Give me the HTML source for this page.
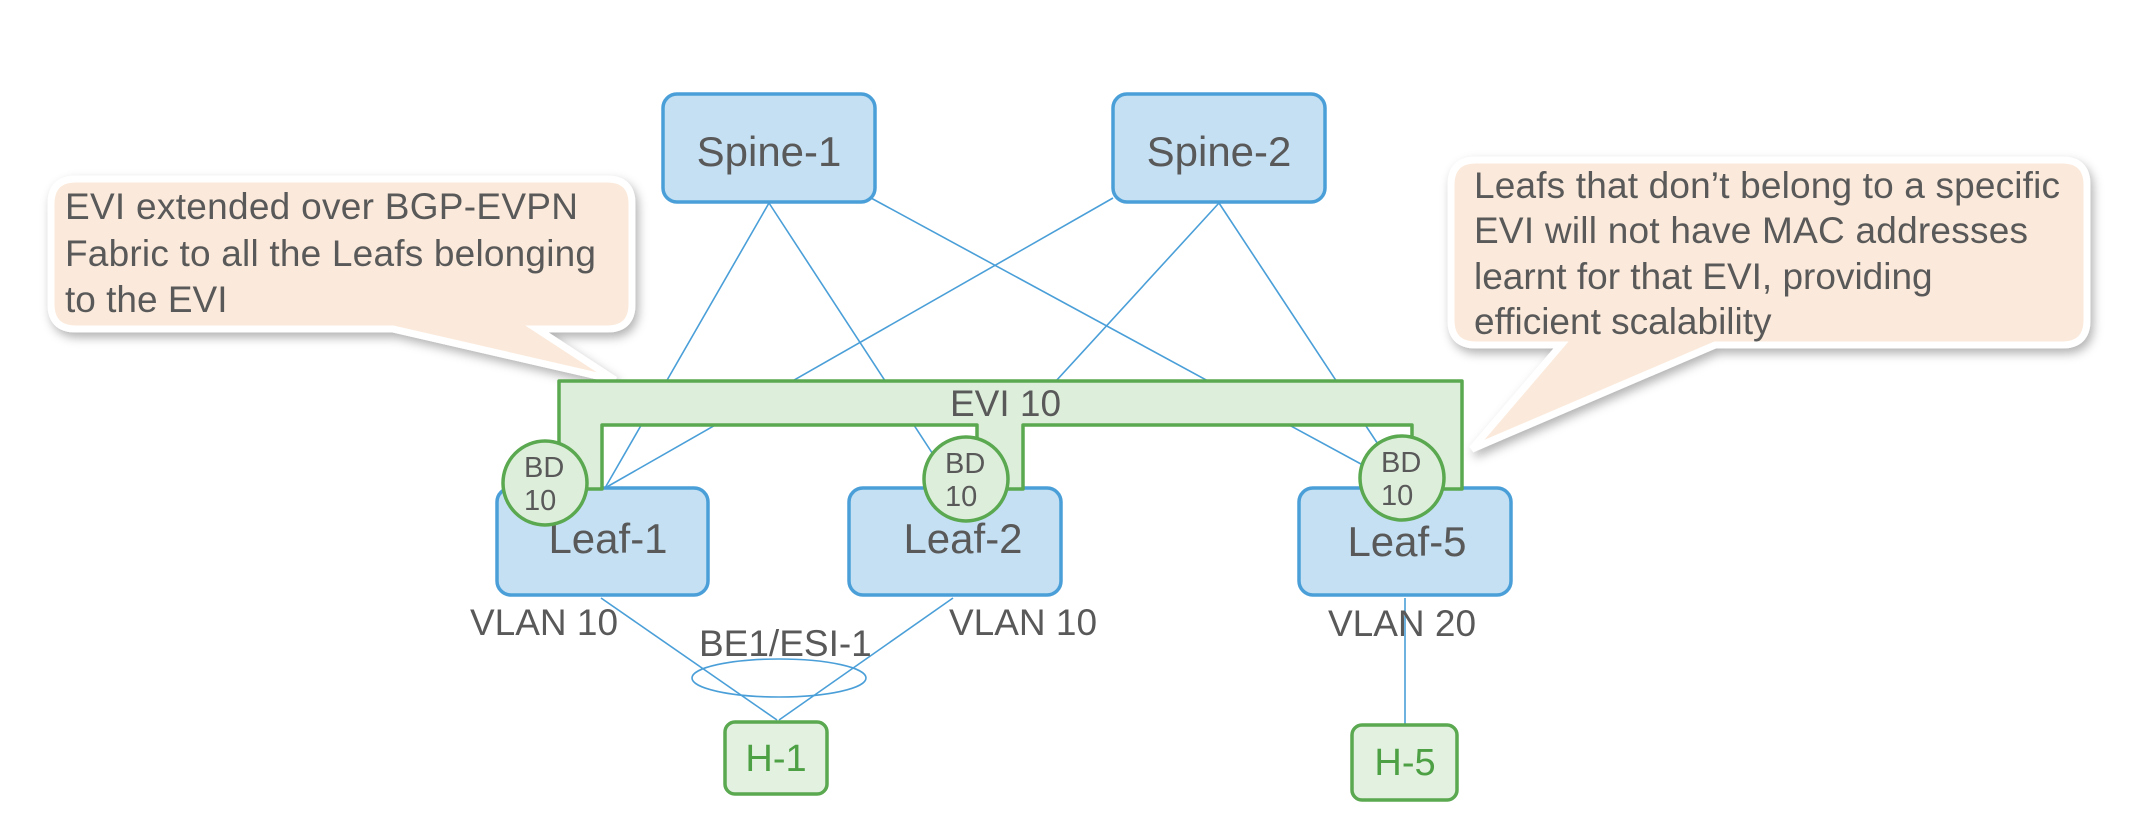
<!DOCTYPE html>
<html><head><meta charset="utf-8"><style>
html,body{margin:0;padding:0;background:#fff;}
svg{display:block;}
text{font-family:"Liberation Sans",Arial,sans-serif;fill:#595959;}
</style></head><body>
<svg width="2144" height="838" viewBox="0 0 2144 838" xmlns="http://www.w3.org/2000/svg">
<defs>
<filter id="sh" x="-10%" y="-10%" width="130%" height="140%">
<feDropShadow dx="3" dy="5" stdDeviation="5" flood-color="#000" flood-opacity="0.3"/>
</filter>
</defs>
<g stroke="#4a9fd8" stroke-width="1.6" fill="none">
<line x1="769" y1="203" x2="605" y2="488"/>
<line x1="769" y1="203" x2="955" y2="488"/>
<line x1="871" y1="198" x2="1372" y2="470"/>
<line x1="1113" y1="198" x2="605" y2="488"/>
<line x1="1219" y1="203" x2="958" y2="488"/>
<line x1="1219" y1="203" x2="1395" y2="470"/>
<line x1="601" y1="598" x2="777" y2="720"/>
<line x1="953" y1="598" x2="779" y2="720"/>
<line x1="1405" y1="598" x2="1405" y2="725"/>
<ellipse cx="779" cy="678" rx="87" ry="19"/>
</g>
<g filter="url(#sh)">
<path d="M76,179 H607 Q632,179 632,204 V304 Q632,329 607,329 H537 L615,380 L393,329 H76 Q51,329 51,304 V204 Q51,179 76,179 Z" fill="#fbeadb" stroke="#fff" stroke-width="7"/>
<path d="M1476,160 H2062 Q2087,160 2087,185 V320 Q2087,345 2062,345 H1715 L1472,449 L1561,345 H1476 Q1451,345 1451,320 V185 Q1451,160 1476,160 Z" fill="#fbeadb" stroke="#fff" stroke-width="7"/>
</g>
<g font-size="37">
<text x="65" y="219" textLength="513">EVI extended over BGP-EVPN</text>
<text x="65" y="266" textLength="531">Fabric to all the Leafs belonging</text>
<text x="65" y="312">to the EVI</text>
<text x="1474" y="198" textLength="586">Leafs that don’t belong to a specific</text>
<text x="1474" y="243" textLength="554">EVI will not have MAC addresses</text>
<text x="1474" y="289">learnt for that EVI, providing</text>
<text x="1474" y="334">efficient scalability</text>
</g>
<g fill="#c5e0f3" stroke="#4a9fd8" stroke-width="3.5">
<rect x="663" y="94" width="212" height="108" rx="14"/>
<rect x="1113" y="94" width="212" height="108" rx="14"/>
<rect x="497" y="488" width="211" height="107" rx="14"/>
<rect x="849" y="488" width="212" height="107" rx="14"/>
<rect x="1299" y="488" width="212" height="107" rx="14"/>
</g>
<g font-size="42" text-anchor="middle">
<text x="769" y="166">Spine-1</text>
<text x="1219" y="166">Spine-2</text>
<text x="608" y="553">Leaf-1</text>
<text x="963" y="553">Leaf-2</text>
<text x="1407" y="556">Leaf-5</text>
</g>
<path d="M559,381 H1462 V489 H1412 V425 H1023 V489 H977 V425 H602 V489 H559 Z" fill="#ddeedb" stroke="#5aa84f" stroke-width="3.5" stroke-linejoin="round"/>
<text x="950" y="416" font-size="37">EVI 10</text>
<g fill="#ddeedb" stroke="#5aa84f" stroke-width="3.5">
<circle cx="545" cy="483" r="42"/>
<circle cx="966" cy="479" r="42"/>
<circle cx="1402" cy="478" r="42"/>
</g>
<g font-size="29">
<text x="524" y="477">BD</text><text x="524" y="510">10</text>
<text x="945" y="473">BD</text><text x="945" y="506">10</text>
<text x="1381" y="472">BD</text><text x="1381" y="505">10</text>
</g>
<g font-size="37">
<text x="470" y="635">VLAN 10</text>
<text x="949" y="635">VLAN 10</text>
<text x="1328" y="636">VLAN 20</text>
<text x="699" y="656">BE1/ESI-1</text>
</g>
<g fill="#e3f1e1" stroke="#5aa84f" stroke-width="3.5">
<rect x="725" y="722" width="102" height="72" rx="10"/>
<rect x="1352" y="725" width="105" height="75" rx="10"/>
</g>
<text x="776" y="771" font-size="38" text-anchor="middle" style="fill:#4ea045">H-1</text>
<text x="1405" y="775" font-size="38" text-anchor="middle" style="fill:#4ea045">H-5</text>
</svg>
</body></html>
